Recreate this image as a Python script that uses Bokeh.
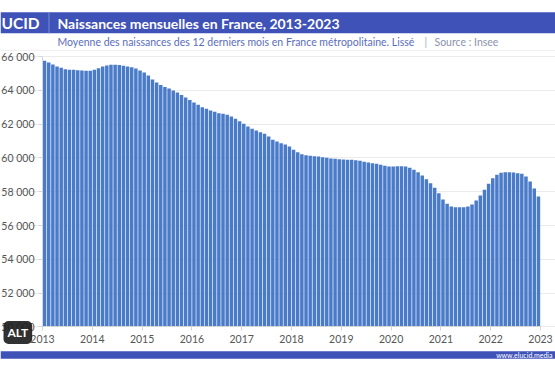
from bokeh.plotting import figure
from bokeh.models import BoxAnnotation, Label, FixedTicker
from bokeh.embed import file_html
from bokeh.resources import INLINE

# ---- data: 12-month moving average of monthly births, metropolitan France ----
years = [2013, 2014, 2015, 2016, 2017, 2018, 2019, 2020, 2021, 2022]
births_2013 = [65750, 65640, 65530, 65410, 65330, 65250, 65210, 65210, 65190, 65170, 65150, 65150]
births_2014 = [65210, 65310, 65410, 65470, 65510, 65510, 65490, 65450, 65410, 65370, 65290, 65170]
births_2015 = [65050, 64880, 64640, 64460, 64310, 64190, 64110, 63990, 63870, 63720, 63570, 63430]
births_2016 = [63280, 63140, 63000, 62910, 62800, 62730, 62640, 62610, 62550, 62450, 62310, 62170]
births_2017 = [62020, 61860, 61720, 61620, 61520, 61430, 61270, 61070, 60970, 60870, 60790, 60670]
births_2018 = [60480, 60340, 60220, 60160, 60120, 60100, 60080, 60040, 60010, 59960, 59950, 59920]
births_2019 = [59900, 59890, 59890, 59860, 59830, 59770, 59730, 59690, 59650, 59590, 59530, 59490]
births_2020 = [59490, 59510, 59510, 59490, 59410, 59300, 59150, 58960, 58740, 58500, 58230, 57910]
births_2021 = [57540, 57280, 57120, 57080, 57080, 57080, 57120, 57240, 57480, 57780, 58110, 58470]
births_2022 = [58800, 59000, 59120, 59150, 59150, 59140, 59090, 59060, 58900, 58600, 58190, 57720]
births_by_year = [births_2013, births_2014, births_2015, births_2016, births_2017,
                  births_2018, births_2019, births_2020, births_2021, births_2022]

y_ticks = [50000, 52000, 54000, 56000, 58000, 60000, 62000, 64000, 66000]
y_tick_labels = ["50 000", "52 000", "54 000", "56 000", "58 000", "60 000", "62 000", "64 000", "66 000"]
x_ticks = [2013, 2014, 2015, 2016, 2017, 2018, 2019, 2020, 2021, 2022, 2023]
x_tick_labels = ["2013", "2014", "2015", "2016", "2017", "2018", "2019", "2020", "2021", "2022", "2023"]

logo_text = "UCID"
title_text = "Naissances mensuelles en France, 2013-2023"
subtitle_text = "Moyenne des naissances des 12 derniers mois en France métropolitaine. Lissé"
source_text = "Source : Insee"
footer_text = "www.elucid.media"

# ---- month positions ----
xs, tops = [], []
for yr, vals in zip(years, births_by_year):
    for m, v in enumerate(vals):
        xs.append(yr + (m + 0.5) / 12)
        tops.append(v)

FONT = "Lato"
BLUE_BAND = "#3f52b8"
W, H = 555, 370
# pixel box of the data area inside the canvas
PL, PR, PT, PB = 42, 540, 56, 326.4
x0, x1 = x_ticks[0], x_ticks[-1]
y0, y1 = y_ticks[0], y_ticks[-1]
xpp = (x1 - x0) / (PR - PL)
ypp = (y1 - y0) / (PB - PT)
x_range = (x0 - PL * xpp, x1 + (W - PR) * xpp)
y_range = (y0 - (H - PB) * ypp, y1 + PT * ypp)

p = figure(width=W, height=H, output_backend="svg", toolbar_location=None,
           x_range=x_range, y_range=y_range,
           min_border_left=0, min_border_right=0, min_border_top=0, min_border_bottom=0,
           background_fill_color="white", border_fill_color="white", outline_line_color=None)

p.vbar(x=xs, top=tops, bottom=y0, width=0.84 / 12, fill_color="#4a7bc8", line_color=None)

p.xgrid.grid_line_color = None
p.ygrid.grid_line_color = "#ebebeb"
p.ygrid.bounds = (x0, x1)

p.yaxis.ticker = FixedTicker(ticks=y_ticks)
p.yaxis.major_label_overrides = {t: l for t, l in zip(y_ticks, y_tick_labels)}
p.yaxis.fixed_location = x0
p.yaxis.bounds = (y0, y1)
p.xaxis.ticker = FixedTicker(ticks=x_ticks)
p.xaxis.major_label_overrides = {t: l for t, l in zip(x_ticks, x_tick_labels)}
p.xaxis.fixed_location = y0
p.xaxis.bounds = (x0, x1)

for ax in (p.xaxis[0], p.yaxis[0]):
    ax.axis_line_color = "#d6d6d6"
    ax.major_tick_line_color = "#d6d6d6"
    ax.minor_tick_line_color = None
    ax.major_tick_in = 0
    ax.major_tick_out = 4
    ax.major_label_text_font = FONT
    ax.major_label_text_font_size = "10.5px"
    ax.major_label_text_color = "#555555"
    ax.major_label_standoff = 4


def sy(canvas_y):
    return H - canvas_y


def band(top, bottom, left=0, right=W, color=BLUE_BAND):
    p.add_layout(BoxAnnotation(left=left, right=right, top=sy(top), bottom=sy(bottom),
                               left_units="screen", right_units="screen",
                               top_units="screen", bottom_units="screen",
                               fill_color=color, fill_alpha=1, line_color=None, level="underlay"))


def text(x, y, s, size, color, bold=False, align="left", **kw):
    p.add_layout(Label(x=x, y=sy(y), x_units="screen", y_units="screen", text=s,
                       text_font=FONT, text_font_style="bold" if bold else "normal",
                       text_font_size=size, text_color=color,
                       text_baseline="middle", text_align=align, level="overlay", **kw))


# header
band(11.7, 32.7)
band(11.7, 32.7, left=48, right=49, color="#7b8bd6")
text(1, 22.5, logo_text, "15.5px", "white", bold=True)
text(57, 22.5, title_text, "14px", "white", bold=True)
text(57, 41, subtitle_text, "10.5px", "#5a6dbd")
text(424, 41, "|", "10.5px", "#b0b0b0")
text(434, 41, source_text, "10.5px", "#8a92ad")
band(49.5, 50.5, color="#f0f0f0")

# footer
band(350.7, 358.3)
text(552, 354.5, footer_text, "7px", "white", align="right")

# ALT badge
text(3, 332, "ALT", "12px", "white", bold=True,
     background_fill_color="#1f1f1f", background_fill_alpha=0.92, padding=4, border_radius=5)

open("out.html", "w").write(file_html(p, INLINE))
